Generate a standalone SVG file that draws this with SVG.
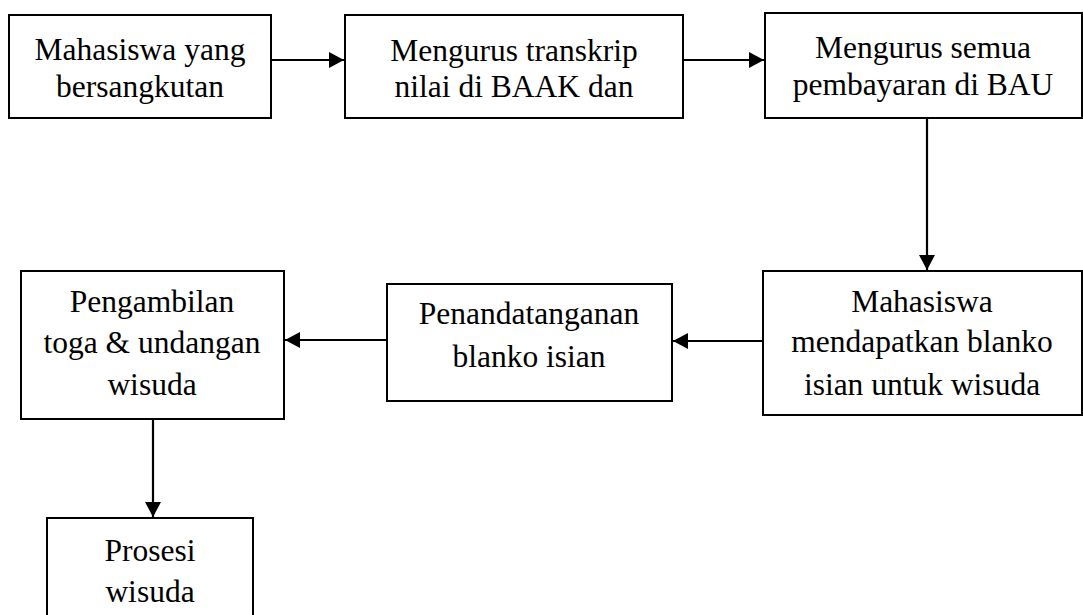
<svg xmlns="http://www.w3.org/2000/svg" width="1083" height="615" viewBox="0 0 1083 615">
<style>
.box{fill:#fff;stroke:#000;stroke-width:2}
.t{font-family:"Liberation Serif","Times New Roman",serif;font-size:31.5px;fill:#000;text-anchor:middle}
.c{stroke:#000;stroke-width:2.2;fill:none;marker-end:url(#ah)}
</style>
<defs>
<marker id="ah" markerUnits="userSpaceOnUse" markerWidth="15" markerHeight="16" refX="15" refY="8" orient="auto">
<path d="M0,0 L15,8 L0,16 z" fill="#000"/>
</marker>
</defs>
<rect width="1083" height="615" fill="#fff"/>
<g id="connectors">
<line class="c" x1="271" y1="60" x2="344" y2="60"/>
<line class="c" x1="683" y1="60" x2="764" y2="60"/>
<line class="c" x1="927" y1="118" x2="927" y2="270"/>
<line class="c" x1="763" y1="341" x2="673" y2="341"/>
<line class="c" x1="387" y1="340" x2="285" y2="340"/>
<line class="c" x1="153" y1="419" x2="153" y2="517"/>
</g>
<g id="n1">
<rect class="box" x="9" y="15" width="262" height="103"/>
<text class="t" x="140" y="60">Mahasiswa yang</text>
<text class="t" x="140" y="97">bersangkutan</text>
</g>
<g id="n2">
<rect class="box" x="345" y="15" width="338" height="103"/>
<text class="t" x="514" y="61">Mengurus transkrip</text>
<text class="t" x="514" y="97">nilai di BAAK dan</text>
</g>
<g id="n3">
<rect class="box" x="765" y="13" width="317" height="105"/>
<text class="t" x="923" y="58">Mengurus semua</text>
<text class="t" x="923" y="95">pembayaran di BAU</text>
</g>
<g id="n4">
<rect class="box" x="763" y="271" width="319" height="144"/>
<text class="t" x="922" y="312">Mahasiswa</text>
<text class="t" x="922" y="352">mendapatkan blanko</text>
<text class="t" x="922" y="395">isian untuk wisuda</text>
</g>
<g id="n5">
<rect class="box" x="387" y="284" width="285" height="117"/>
<text class="t" x="529" y="324">Penandatanganan</text>
<text class="t" x="529" y="367">blanko isian</text>
</g>
<g id="n6">
<rect class="box" x="21" y="271" width="263" height="148"/>
<text class="t" x="152" y="312">Pengambilan</text>
<text class="t" x="152" y="353">toga &amp; undangan</text>
<text class="t" x="152" y="395">wisuda</text>
</g>
<g id="n7">
<rect class="box" x="47" y="518" width="206" height="110"/>
<text class="t" x="150" y="561">Prosesi</text>
<text class="t" x="150" y="602">wisuda</text>
</g>
</svg>
